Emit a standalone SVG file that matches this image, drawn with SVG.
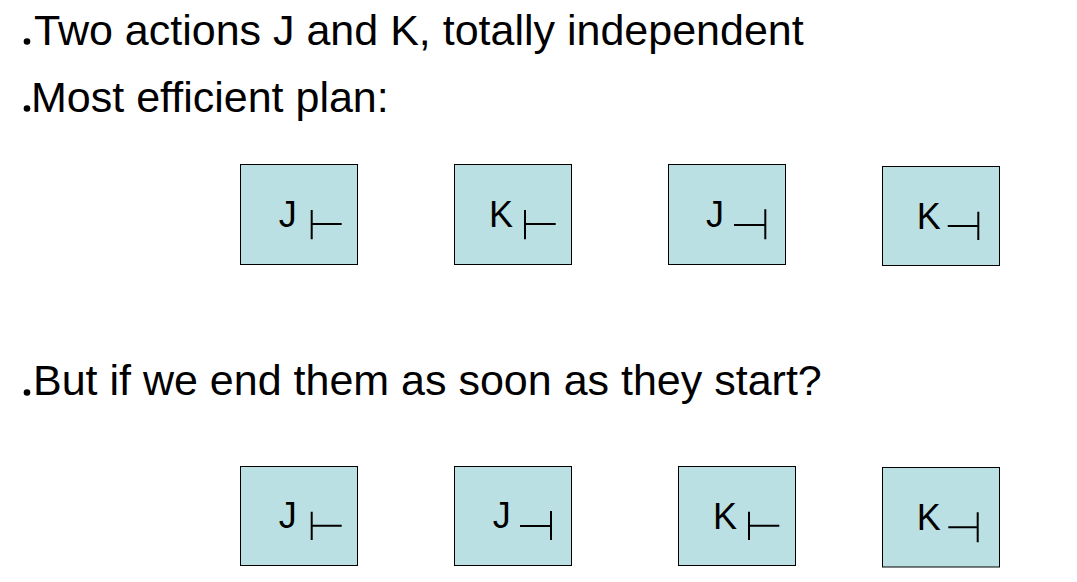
<svg xmlns="http://www.w3.org/2000/svg" width="1077" height="582" viewBox="0 0 1077 582">
<style>
.bg{fill:#ffffff}
.head{font-family:"Liberation Sans",Arial,sans-serif;font-size:43px;fill:#000000}
.bul{fill:#000000}
.box{fill:#BBE0E3;stroke:#000000;stroke-width:1}
.lab{font-family:"Liberation Sans",Arial,sans-serif;font-size:36px;fill:#000000}
.sym{stroke:#000000;stroke-width:2;fill:none}
</style>
<rect class="bg" x="0" y="0" width="1077" height="582"/>
<g id="text">
<circle class="bul" cx="27" cy="41.5" r="3.3"/>
<text class="head" x="34" y="45">Two actions J and K, totally independent</text>
<circle class="bul" cx="27" cy="108.5" r="3.3"/>
<text class="head" x="31" y="112">Most efficient plan:</text>
<circle class="bul" cx="27" cy="392.5" r="3.3"/>
<text class="head" x="33" y="395">But if we end them as soon as they start?</text>
</g>
<g id="n1">
<rect class="box" x="240.5" y="164.5" width="117" height="100"/>
<text class="lab" x="278.7" y="227">J</text>
<path class="sym" d="M311.7 210V239.3M311.7 224H341.7"/>
</g>
<g id="n2">
<rect class="box" x="454.5" y="164.5" width="117" height="100"/>
<text class="lab" x="489" y="227">K</text>
<path class="sym" d="M525 210V239.3M525 224H555.7"/>
</g>
<g id="n3">
<rect class="box" x="668.5" y="164.5" width="117" height="100"/>
<text class="lab" x="706" y="227">J</text>
<path class="sym" d="M765.3 209.3V239.3M734 225H765.3"/>
</g>
<g id="n4">
<rect class="box" x="882.5" y="166.5" width="117" height="99"/>
<text class="lab" x="916.7" y="229">K</text>
<path class="sym" d="M978.3 211.7V240M947.7 226H978.3"/>
</g>
<g id="n5">
<rect class="box" x="240.5" y="466.5" width="117" height="99"/>
<text class="lab" x="278.7" y="528.3">J</text>
<path class="sym" d="M311.7 511.7V540M311.7 525.7H341.7"/>
</g>
<g id="n6">
<rect class="box" x="454.5" y="466.5" width="117" height="99"/>
<text class="lab" x="492.7" y="528.3">J</text>
<path class="sym" d="M551 511V540M520 526H551"/>
</g>
<g id="n7">
<rect class="box" x="678.5" y="466.5" width="117" height="99"/>
<text class="lab" x="713" y="529">K</text>
<path class="sym" d="M749 511.7V540M749 525.7H779.3"/>
</g>
<g id="n8">
<rect class="box" x="882.5" y="467.5" width="117" height="99.5"/>
<text class="lab" x="916.7" y="530">K</text>
<path class="sym" d="M977.7 512.3V542.3M948.3 527.3H977.7"/>
</g>
</svg>
